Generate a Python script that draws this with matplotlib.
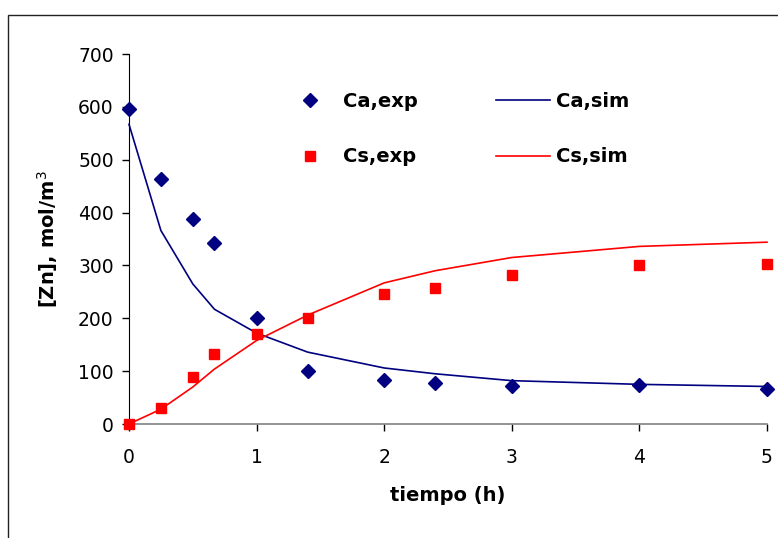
import matplotlib
matplotlib.use('Agg')
from matplotlib import pyplot as plt
from matplotlib.patches import Rectangle

# time (h) and zinc concentration (mol/m3)
t_exp = [0, 0.25, 0.5, 0.67, 1, 1.4, 2, 2.4, 3, 4, 5]
ca_exp = [596, 463, 388, 342, 200, 101, 83, 78, 71, 74, 67]
cs_exp = [0, 31, 88, 133, 171, 201, 246, 258, 281, 300, 303]

t_sim = [0, 0.25, 0.5, 0.67, 1, 1.4, 2, 2.4, 3, 4, 5]
ca_sim = [567, 366, 265, 217, 172, 136, 106, 95, 82, 75, 71]
cs_sim = [0, 28, 70, 104, 158, 206, 267, 290, 315, 336, 344]

navy = '#000080'
red = '#ff0000'

plt.rcParams['font.family'] = 'DejaVu Sans'

fig = plt.figure(figsize=(7.78, 5.38), dpi=100)
ax = fig.add_axes([129/778, 1 - 424/538, 638/778, 370/538])

# outer chart frame
fig.patches.append(Rectangle((7.5/778, -0.1), 1.1, 1 - 15/538 + 0.1,
                             transform=fig.transFigure, fill=False,
                             edgecolor='#222222', linewidth=1.0))

ax.plot(t_exp, ca_exp, linestyle='none', marker='D', ms=7, color=navy,
        mec=navy, clip_on=False, label='Ca,exp', zorder=3)
ax.plot(t_exp, cs_exp, linestyle='none', marker='s', ms=7.2, color=red,
        mec=red, clip_on=False, label='Cs,exp', zorder=3)
ax.plot(t_sim, ca_sim, color=navy, lw=1.2, clip_on=False, label='Ca,sim')
ax.plot(t_sim, cs_sim, color=red, lw=1.2, clip_on=False, label='Cs,sim')

ax.set_xlim(0, 5)
ax.set_ylim(0, 700)
ax.set_xticks(range(0, 6))
ax.set_yticks(range(0, 701, 100))

for s in ['top', 'right']:
    ax.spines[s].set_visible(False)
ax.spines['left'].set_color('black')
ax.spines['bottom'].set_color('#808080')
ax.spines['bottom'].set_linewidth(1.2)

ax.tick_params(axis='both', direction='out', length=5, width=1, color='black',
               labelsize=13.5)
ax.tick_params(axis='x', pad=12)
ax.tick_params(axis='y', pad=6)

ax.set_xlabel('tiempo (h)', fontsize=14, fontweight='bold', labelpad=14)
ax.set_ylabel('[Zn], mol/m$^3$', fontsize=14, fontweight='bold', labelpad=13)

leg = ax.legend(ncol=2, frameon=False,
                prop={'weight': 'bold', 'size': 14},
                loc='center', bbox_to_anchor=(456/778, 1 - 129/538),
                bbox_transform=fig.transFigure,
                handlelength=2.8, handletextpad=0.3, columnspacing=4.0,
                labelspacing=1.9)

fig.savefig('out.png', dpi=100)
